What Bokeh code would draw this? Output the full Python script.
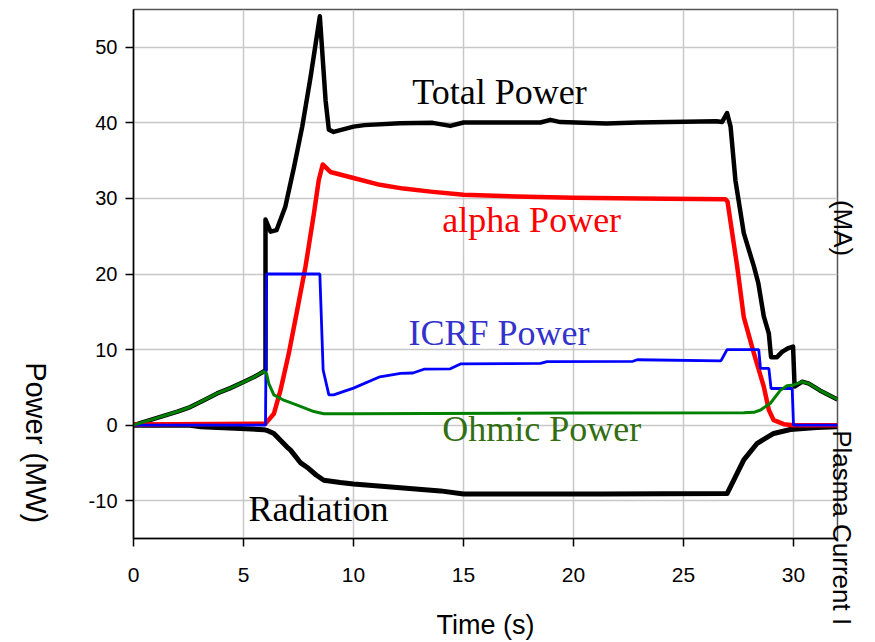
import math
from bokeh.plotting import figure
from bokeh.models import Range1d, FixedTicker, Label, LinearAxis
from bokeh.embed import file_html
from bokeh.resources import INLINE

# ---------------- data ----------------
ohmic_t = [0, 1.0, 2.0, 2.58, 3.2, 3.8, 4.4, 5.0, 5.5, 5.92, 6.05, 6.15, 6.38, 6.83, 7.44,
           8.2, 8.65, 10.0, 13.5, 20.0, 27.74, 28.2, 28.5, 28.95, 29.4, 29.7, 30.0, 30.4,
           30.7, 31.2, 32.0]
ohmic_v = [0, 0.9, 1.8, 2.4, 3.3, 4.2, 4.9, 5.7, 6.4, 7.1, 6.8, 5.5, 4.0, 3.3, 2.65,
           1.8, 1.5, 1.5, 1.55, 1.6, 1.63, 1.7, 2.0, 2.9, 4.6, 5.2, 5.3, 5.75,
           5.5, 4.6, 3.4]

total_t = [0, 1.0, 2.0, 2.58, 3.2, 3.8, 4.4, 5.0, 5.5, 5.92, 6.0, 6.0, 6.23, 6.5, 6.9,
           7.3, 7.67, 8.05, 8.47, 8.73, 8.88, 9.1, 10.0, 10.5, 12.1, 13.6, 14.4, 15.0,
           18.5, 18.95, 19.4, 21.5, 22.9, 26.5, 26.75, 26.98, 27.14, 27.36, 27.74, 28.2,
           28.4, 28.65, 28.88, 28.98, 29.25, 29.48, 29.77, 29.98, 30.05, 30.4, 30.7,
           31.2, 32.0]
total_v = [0, 0.9, 1.8, 2.4, 3.3, 4.2, 4.9, 5.7, 6.4, 7.1, 7.3, 27.2, 25.6, 25.8, 28.9,
           34.2, 39.5, 46.1, 54.1, 43.0, 39.1, 38.8, 39.5, 39.7, 39.95, 40.0, 39.6, 40.05,
           40.05, 40.4, 40.1, 39.9, 40.05, 40.2, 40.1, 41.3, 39.5, 32.4, 25.4, 21.0,
           18.8, 14.4, 12.1, 9.0, 9.0, 9.7, 10.2, 10.4, 5.1, 5.75, 5.5,
           4.6, 3.4]

alpha_t = [0, 5.9, 6.0, 6.38, 6.68, 7.06, 7.44, 7.82, 8.2, 8.42, 8.6, 8.95, 10.0, 11.2,
           12.27, 13.5, 15.0, 17.4, 20.0, 23.0, 26.9, 27.0, 27.44, 27.74, 28.2, 28.65,
           28.88, 29.1, 29.56, 30.0, 32.0]
alpha_v = [0.1, 0.2, 0.2, 1.5, 4.6, 9.5, 15.2, 21.0, 28.0, 32.4, 34.5, 33.5, 32.7, 31.8,
           31.3, 30.9, 30.5, 30.25, 30.1, 30.0, 29.9, 29.6, 21.0, 14.3, 9.5, 5.1,
           2.0, 0.66, 0.13, 0.0, 0.0]

icrf_t = [0, 6.0, 6.05, 8.47, 8.62, 8.88, 9.1, 10.0, 11.2, 12.14, 12.7, 13.2, 14.4, 14.86,
          18.5, 18.8, 22.7, 22.9, 26.7, 26.98, 28.42, 28.5, 28.88, 28.98, 29.94, 30.0, 32.0]
icrf_v = [0, 0, 20, 20, 7.3, 4.0, 4.0, 4.9, 6.4, 6.85, 6.9, 7.4, 7.45, 8.1,
          8.17, 8.4, 8.45, 8.65, 8.5, 10.0, 10.0, 7.5, 7.5, 4.85, 4.85, 0, 0]

rad_t = [0, 2.5, 3.05, 4.86, 5.92, 6.08, 6.38, 6.98, 7.14, 7.6, 7.9, 8.3, 8.65, 9.4, 10.0,
         11.7, 13.95, 15.0, 18.2, 21.2, 26.98, 27.28, 27.74, 28.35, 29.1, 29.86, 31.06, 32.0]
rad_v = [0, 0, -0.2, -0.45, -0.6, -0.7, -1.1, -2.9, -3.3, -5.0, -5.6, -6.6, -7.3, -7.6, -7.8,
         -8.2, -8.7, -9.1, -9.1, -9.1, -9.05, -7.3, -4.6, -2.4, -1.1, -0.57, -0.3, -0.2]

x_ticks = [0, 5, 10, 15, 20, 25, 30]
y_ticks = [-10, 0, 10, 20, 30, 40, 50]
y_tick_labels = ["-10", "0", "10", "20", "30", "40", "50"]

# ---------------- figure ----------------
p = figure(width=875, height=642, x_range=Range1d(0, 32), y_range=Range1d(-15, 55),
           output_backend="svg", toolbar_location=None,
           min_border_left=133, min_border_right=38, min_border_top=9,
           min_border_bottom=104)
p.title.visible = False
p.background_fill_color = "white"
p.border_fill_color = "white"
p.outline_line_color = "#555555"
p.outline_line_width = 1.5

for ax, ticks in ((p.xaxis, x_ticks), (p.yaxis, y_ticks)):
    ax.ticker = FixedTicker(ticks=ticks)
    ax.minor_tick_line_color = None
    ax.major_tick_out = 8
    ax.major_tick_in = 0
    ax.axis_line_color = "black"
    ax.axis_line_width = 1.5
    ax.major_tick_line_color = "black"
    ax.major_tick_line_width = 1.5
    ax.major_label_text_font = "Liberation Sans"
    ax.major_label_text_color = "black"
p.yaxis.major_label_overrides = {t: s for t, s in zip(y_ticks, y_tick_labels)}
p.xaxis.major_label_text_font_size = "21px"
p.yaxis.major_label_text_font_size = "20px"
p.xaxis.major_label_standoff = 21
p.yaxis.major_label_standoff = 8

p.xaxis.axis_label = "Time (s)"
p.xaxis.axis_label_text_font = "Liberation Sans"
p.xaxis.axis_label_text_font_size = "27px"
p.xaxis.axis_label_text_font_style = "normal"
p.xaxis.axis_label_text_color = "black"
p.xaxis.axis_label_standoff = 25

p.xgrid.ticker = FixedTicker(ticks=x_ticks)
p.ygrid.ticker = FixedTicker(ticks=y_ticks)
p.grid.grid_line_color = "#c8c8c8"
p.grid.grid_line_width = 1.5

# ---------------- lines ----------------
p.line(total_t, total_v, line_color="black", line_width=4.5, line_join="round")
p.line(rad_t, rad_v, line_color="black", line_width=5, line_join="round")
p.line(alpha_t, alpha_v, line_color="#ff0000", line_width=4.5, line_join="round")
p.line(icrf_t, icrf_v, line_color="#0000ff", line_width=2.8)
p.line(ohmic_t, ohmic_v, line_color="#008000", line_width=3, line_join="round")

# ---------------- in-plot annotations ----------------
serif = "Liberation Serif"
for txt, x, y, col in (("Total Power", 12.67, 44.1, "black"),
                       ("alpha Power", 14.03, 27.1, "#ff0000"),
                       ("ICRF Power", 12.5, 12.15, "#3333cc"),
                       ("Ohmic Power", 14.03, -0.5, "#336e12"),
                       ("Radiation", 5.23, -11.1, "black")):
    p.add_layout(Label(x=x, y=y, text=txt, text_font=serif, text_font_size="36px",
                       text_color=col, text_align="left", text_baseline="alphabetic"))


# ---------------- rotated side titles (as axis tick labels, not clipped) ----------------
def title_axis(tick, text, standoff, size="27px"):
    return LinearAxis(ticker=FixedTicker(ticks=[tick]),
                      major_label_overrides={tick: text},
                      major_label_orientation=-math.pi / 2,
                      major_label_standoff=standoff,
                      major_label_text_font="Liberation Sans",
                      major_label_text_font_size=size,
                      major_label_text_color="black",
                      axis_line_color=None, major_tick_line_color=None,
                      minor_tick_line_color=None, major_tick_out=0, major_tick_in=0)


p.add_layout(title_axis(-12.98, "Power (MW)", 50, "29px"), "left")
p.add_layout(title_axis(-0.66, "Plasma Current I", 4, "26px"), "right")
p.add_layout(title_axis(29.8, "(MA)", -32, "26px"), "right")

open("out.html", "w").write(file_html(p, INLINE))
